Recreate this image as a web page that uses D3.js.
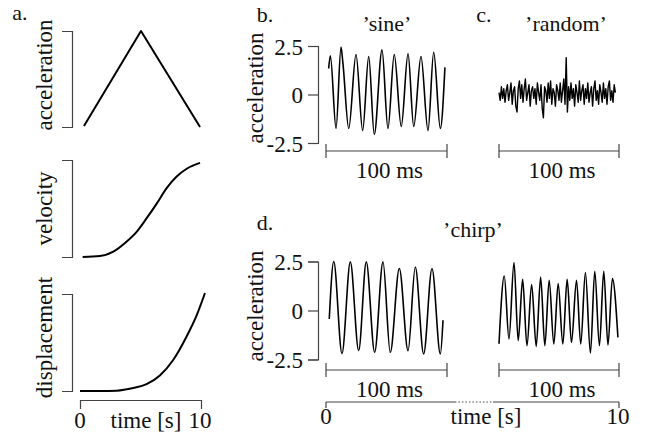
<!DOCTYPE html>
<html>
<head>
<meta charset="utf-8">
<script src="https://cdn.jsdelivr.net/npm/d3@7"></script>
<style>
  body { margin: 0; background: #fff; }
  svg { display: block; }
  text { font-family: "Liberation Serif", "DejaVu Serif", serif; font-size: 23px; fill: #111; }
  .letter { font-size: 22px; }
  .title { font-size: 22px; }
  .bracket { stroke: #444; stroke-width: 1.2; fill: none; }
  .trace { stroke: #000; fill: none; stroke-linejoin: round; }
</style>
</head>
<body>
<svg id="chart" width="645" height="439"></svg>
<script>
// panel a: motion profile (normalised), time in s
const accelT = [0.33, 5.04, 9.92];
const accelV = [0.01, 1.0, 0.0];
const velT = [0.22, 1.65, 2.75, 3.86, 4.68, 5.51, 6.34, 7.16, 7.99, 8.82, 9.92];
const velV = [0.0, 0.01, 0.055, 0.16, 0.26, 0.40, 0.55, 0.71, 0.83, 0.91, 0.97];
const dispT = [0, 1.65, 3.03, 4.4, 5.5, 6.6, 7.7, 8.8, 9.64, 10.33];
const dispV = [0, 0, 0.003, 0.03, 0.07, 0.16, 0.32, 0.56, 0.78, 1.01];

// panel b: 'sine' (time in ms, acceleration)
const sineT = [2.2, 3.6, 8.3, 12.4, 14.0, 18.8, 24.8, 30.3, 35.3, 39.9, 46.3, 51.2,
               56.4, 62.2, 67.8, 72.5, 78.5, 84.3, 89.0, 94.5, 98.3];
const sineV = [1.34, 2.0, -1.75, 2.44, 1.6, -1.75, 2.06, -1.86, 1.96, -2.06, 2.3, -1.75,
               2.06, -1.65, 2.1, -1.65, 1.96, -1.86, 2.18, -1.75, 1.4];

// panel c: 'random', one sample per ms
const randomV = [0.1, -0.3, 0.4, -0.2, 0.3, -0.4, 0.2, 0.5, -0.3, 0.1,
                 0.6, -0.5, 0.2, 0.4, -0.6, -0.9, 0.3, 0.7, -0.2, 0.5,
                 -0.4, 0.3, 0.8, -0.3, 0.1, 0.5, -0.6, 0.2, 0.4, -0.2,
                 0.3, -0.5, 0.6, 0.1, -0.3, 0.5, -0.7, -1.2, 0.4, 0.2,
                 -0.4, 0.6, -0.2, 0.7, -0.5, 0.3, 0.1, -0.6, 0.5, 0.2,
                 -0.3, 0.6, -0.4, 0.2, 0.8, -0.5, 1.9, -0.9, 0.4, -0.3,
                 0.6, -0.2, 0.3, -0.6, 0.5, 0.1, -0.4, 0.7, -0.3, 0.2,
                 0.5, -0.5, 0.3, -0.2, 0.6, -0.4, 0.1, 0.4, -0.6, 0.3,
                 0.7, -0.3, 0.2, -0.5, 0.5, 0.1, -0.4, 0.6, -0.2, 0.3,
                 -0.5, 0.4, 0.7, -0.3, 0.2, -0.4, 0.5, 0.1];

// panel d: 'chirp', first and last 100 ms
const chirpLoT = [2.7, 6.4, 13.2, 20.1, 27.0, 33.3, 40.2, 47.1, 53.1, 60.6, 67.8, 73.8,
                  80.7, 87.6, 94.5, 96.7];
const chirpLoV = [-0.43, 2.5, -2.2, 2.48, -2.05, 2.48, -2.14, 2.48, -2.14, 2.14, -2.05, 2.22,
                  -2.22, 2.14, -2.22, -0.5];
const chirpHiT = [0, 4.4, 8.3, 12.5, 16.0, 19.7, 23.3, 27.2, 31.0, 34.7, 38.2, 41.8, 45.7,
                  49.3, 53.2, 56.8, 60.4, 64.6, 68.1, 72.0, 76.2, 79.8, 83.7, 87.3, 90.8,
                  94.5, 99.1];
const chirpHiV = [-1.7, 1.76, -1.45, 2.45, -1.54, 1.59, -1.8, 1.32, -1.83, 1.71, -1.8, 1.54,
                  -1.71, 1.37, -1.71, 1.59, -1.63, 1.54, -1.71, 1.93, -2.17, 2.0, -1.8, 2.0,
                  -1.76, 1.63, -1.37];

const accTicks = [-2.5, 0, 2.5];
const accTickLabels = ["-2.5", "0", "2.5"];

const svg = d3.select("#chart");
const zip = (t, v) => t.map((d, i) => [d, v[i]]);

function label(x, y, txt, anchor, rotate) {
    let t = svg.append("text").text(txt).attr("text-anchor", anchor || "middle");
    if (rotate) t.attr("transform", `translate(${x},${y}) rotate(-90)`);
    else t.attr("x", x).attr("y", y);
    return t;
}

function trace(data, x, y, curve, width) {
    svg.append("path").attr("class", "trace")
        .attr("stroke-width", width)
        .attr("d", d3.line().x(d => x(d[0])).y(d => y(d[1])).curve(curve)(data));
}

// y bracket with optional tick labels
function yBracket(y, xPos, ticks, labels) {
    let ax = d3.axisLeft(y).tickValues(ticks).tickSize(10).tickSizeOuter(10)
        .tickFormat((d, i) => labels ? labels[i] : "");
    let g = svg.append("g").attr("transform", `translate(${xPos},0)`).call(ax);
    g.selectAll("path, line").attr("class", "bracket").attr("stroke", null);
    g.selectAll("text").attr("font-size", null).attr("font-family", null)
        .attr("fill", null).attr("x", -15);
    return g;
}

// 100 ms bracket: horizontal line with centred end ticks
function msBracket(x, yPos) {
    let [a, b] = x.domain().map(x);
    let g = svg.append("g").attr("class", "bracket");
    g.append("line").attr("x1", a).attr("x2", b).attr("y1", yPos).attr("y2", yPos);
    [a, b].forEach(px => g.append("line").attr("x1", px).attr("x2", px)
        .attr("y1", yPos - 7).attr("y2", yPos + 7));
    label((a + b) / 2 + 3, yPos + 27, "100 ms");
}

// ---- panel a ----
const xA = d3.scaleLinear().domain([0, 10]).range([80, 201]);
const yAcc = d3.scaleLinear().domain([0, 1]).range([127, 31]);
const yVel = d3.scaleLinear().domain([0, 1]).range([257, 160]);
const yDisp = d3.scaleLinear().domain([0, 1]).range([391, 294]);

label(20, 20, "a.").attr("class", "letter");
[[yAcc, "acceleration", -4], [yVel, "velocity", 0], [yDisp, "displacement", -5]].forEach(([y, name, dy]) => {
    yBracket(y, 72, [], null);
    label(52, d3.mean(y.range()) + dy, name, "middle", true);
});
trace(zip(accelT, accelV), xA, yAcc, d3.curveLinear, 2);
trace(zip(velT, velV), xA, yVel, d3.curveMonotoneX, 2);
trace(zip(dispT, dispV), xA, yDisp, d3.curveMonotoneX, 2);

let axA = svg.append("g").attr("transform", "translate(0,400)")
    .call(d3.axisBottom(xA).tickValues([0, 10]).tickSize(9).tickSizeOuter(0).tickFormat(""));
axA.selectAll("path, line").attr("class", "bracket").attr("stroke", null);
label(xA(0), 428, "0");
label(xA(10) - 1, 428, "10");
label(146, 428, "time [s]");

// ---- panel b ----
const xB = d3.scaleLinear().domain([0, 100]).range([326, 447]);
const xC = d3.scaleLinear().domain([0, 100]).range([499, 619]);
const yB = d3.scaleLinear().domain([-2.5, 2.5]).range([143, 46]);

label(265, 22, "b.").attr("class", "letter");
label(387, 31, "\u2019sine\u2019").attr("class", "title");
yBracket(yB, 318, accTicks, accTickLabels).selectAll("text").attr("dy", "0.35em");
label(263, 88, "acceleration", "middle", true);
trace(zip(sineT, sineV), xB, yB, d3.curveMonotoneX, 1.6);
msBracket(xB, 151);

// ---- panel c ----
label(484, 22, "c.").attr("class", "letter");
label(566, 31, "\u2019random\u2019").attr("class", "title");
trace(randomV.map((v, i) => [i, v]), xC, yB, d3.curveLinear, 1.4);
msBracket(xC, 151);

// ---- panel d ----
const yD = d3.scaleLinear().domain([-2.5, 2.5]).range([359.5, 261.5]);
const xT = d3.scaleLinear().domain([0, 10]).range([326, 619]);
const gapT = [4.4, 5.7];

label(265, 230, "d.").attr("class", "letter");
label(473, 237, "\u2019chirp\u2019").attr("class", "title");
yBracket(yD, 318, accTicks, accTickLabels).selectAll("text").attr("dy", "0.35em");
label(263, 306, "acceleration", "middle", true);
trace(zip(chirpLoT, chirpLoV), xB, yD, d3.curveMonotoneX, 1.6);
trace(zip(chirpHiT, chirpHiV), xC, yD, d3.curveMonotoneX, 1.6);
msBracket(xB, 370);
msBracket(xC, 370);

let tAx = svg.append("g").attr("class", "bracket");
tAx.append("line").attr("x1", xT(0)).attr("x2", xT(gapT[0])).attr("y1", 402).attr("y2", 402);
tAx.append("line").attr("x1", xT(gapT[0])).attr("x2", xT(gapT[1])).attr("y1", 402).attr("y2", 402)
    .attr("stroke-dasharray", "1.5,2");
tAx.append("line").attr("x1", xT(gapT[1])).attr("x2", xT(10)).attr("y1", 402).attr("y2", 402);
[0, 10].forEach(t => tAx.append("line").attr("x1", xT(t)).attr("x2", xT(t))
    .attr("y1", 402).attr("y2", 408));
label(xT(0), 424, "0");
label(xT(10) - 1, 424, "10");
label(486, 424, "time [s]");
</script>
</body>
</html>
